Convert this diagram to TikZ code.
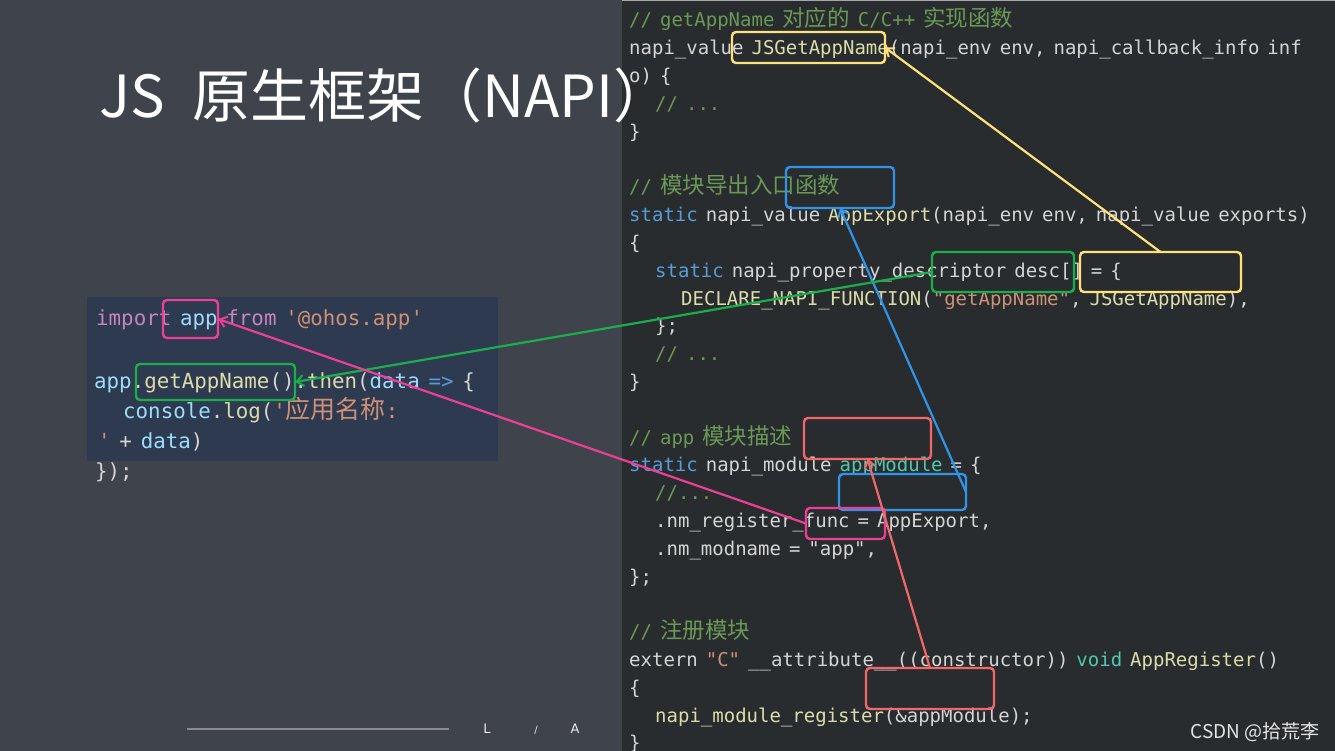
\documentclass[tikz,border=0pt]{standalone}
\usepackage{fontspec}
\newfontfamily\cjk{Noto Sans CJK SC}
\newfontfamily\mono[WordSpace=0.7]{DejaVu Sans Mono}
\newfontfamily\ui{DejaVu Sans}
\usetikzlibrary{arrows.meta,calc}
\definecolor{bgL}{HTML}{3F434C}
\definecolor{bgR}{HTML}{282C2E}
\definecolor{codebg}{HTML}{2E3A4F}
\definecolor{fg}{HTML}{D4D4D4}
\definecolor{cmt}{HTML}{6A9955}
\definecolor{kwc}{HTML}{569CD6}
\definecolor{fnc}{HTML}{DCDCAA}
\definecolor{tyc}{HTML}{4EC9B0}
\definecolor{stc}{HTML}{CE9178}
\definecolor{vrc}{HTML}{9CDCFE}
\definecolor{puc}{HTML}{C586C0}
\definecolor{yl}{HTML}{FFE27A}
\definecolor{bl}{HTML}{3094E8}
\definecolor{gr}{HTML}{1AAF4B}
\definecolor{pk}{HTML}{EC3F97}
\definecolor{rd}{HTML}{F2676A}
\definecolor{footgray}{HTML}{8A8B90}
\newcommand\ccm[1]{\textcolor{cmt}{#1}}
\newcommand\ckw[1]{\textcolor{kwc}{#1}}
\newcommand\cfn[1]{\textcolor{fnc}{#1}}
\newcommand\cty[1]{\textcolor{tyc}{#1}}
\newcommand\cst[1]{\textcolor{stc}{#1}}
\newcommand\cvr[1]{\textcolor{vrc}{#1}}
\newcommand\cpu[1]{\textcolor{puc}{#1}}
\newcommand\zh[1]{{\cjk\fontsize{22.5}{28}\selectfont #1}}
\newcommand\zhL[1]{{\cjk\fontsize{25}{30}\selectfont #1}}
\tikzset{
  rline/.style={anchor=base west, inner sep=0pt, text=fg, font=\mono\fontsize{19}{28}\selectfont},
  lline/.style={anchor=base west, inner sep=0pt, text=fg, font=\mono\fontsize{20.8}{30}\selectfont},
  mark box/.style={draw=#1, line width=2.4pt, rounded corners=4pt, inner sep=0pt, outer sep=0pt, anchor=north west},
  conn/.style={draw=#1, line width=2.2pt, -{Straight Barb[length=7pt,width=11pt,line width=2pt]}},
  ftxt/.style={inner sep=0pt, text=white!85!gray, font=\ui\fontsize{13}{14}\selectfont}
}
\begin{document}
\begin{tikzpicture}[x=1pt,y=-1pt]
\useasboundingbox (0,0) rectangle (1335,751);
\fill[bgL] (0,0) rectangle (622,751);
\fill[bgR] (622,0) rectangle (1335,751);
\fill[gray!70] (622,0) rectangle (1335,1.5);
% left code box
\fill[codebg] (87,297) rectangle (498,461);
\node[lline] (l1) at (96,325) {\cpu{import} \cvr{app} \cpu{from} \cst{'@ohos.app'}};
\node[lline] (l2) at (94,388) {\cvr{app}.\cfn{getAppName}().\cfn{then}(\cvr{data} \ckw{=>} \{};
\node[lline] (l3) at (123,418) {\cvr{console}.\cfn{log}(\cst{'\zhL{应用名称}:}};
\node[lline] (l4) at (98,448) {\cst{'} + \cvr{data})};
\node[lline] (l5) at (95,478) {\});};
% right code
\node[rline] (r0) at (629,27) {\ccm{// getAppName \zh{对应的} C/C++ \zh{实现函数}}};
\node[rline] (r1) at (629,54.8) {napi\_value \cfn{JSGetAppName}(napi\_env env, napi\_callback\_info inf};
\node[rline] (r2) at (629,82.6) {o) \{};
\node[rline] (r3) at (655,110.4) {\ccm{// ...}};
\node[rline] (r4) at (629,138.2) {\}};
\node[rline] (r6) at (629,193.8) {\ccm{// \zh{模块导出入口函数}}};
\node[rline] (r7) at (629,221.6) {\ckw{static} napi\_value \cfn{AppExport}(napi\_env env, napi\_value exports)};
\node[rline] (r8) at (629,249.4) {\{};
\node[rline] (r9) at (655,277.2) {\ckw{static} napi\_property\_descriptor desc[] = \{};
\node[rline] (r10) at (681,305) {\cfn{DECLARE\_NAPI\_FUNCTION}(\cst{"getAppName"}, \cfn{JSGetAppName}),};
\node[rline] (r11) at (655,332.8) {\};};
\node[rline] (r12) at (655,360.6) {\ccm{// ...}};
\node[rline] (r13) at (629,388.4) {\}};
\node[rline] (r15) at (629,444) {\ccm{// app \zh{模块描述}}};
\node[rline] (r16) at (629,471.8) {\ckw{static} napi\_module \cty{appModule} = \{};
\node[rline] (r17) at (655,499.6) {\ccm{//...}};
\node[rline] (r18) at (655,527.4) {.nm\_register\_func = AppExport,};
\node[rline] (r19) at (655,555.2) {.nm\_modname = "app",};
\node[rline] (r20) at (629,583) {\};};
\node[rline] (r22) at (629,638.6) {\ccm{// \zh{注册模块}}};
\node[rline] (r23) at (629,666.4) {extern \cst{"C"} \_\_attribute\_\_((constructor)) \cty{void} \cfn{AppRegister}()};
\node[rline] (r24) at (629,694.2) {\{};
\node[rline] (r25) at (655,722) {\cfn{napi\_module\_register}(\&appModule);};
\node[rline] (r26) at (629,749.8) {\}};
% title
\node[anchor=base west, inner sep=0pt, text=white, font=\cjk\fontsize{58}{62}\selectfont] (title) at (99,118) {JS\hspace{28pt}原生框架（NAPI）};
% footer
\coordinate (fl1) at (187,729);
\coordinate (fl2) at (449,729);
\draw[footgray, line width=2pt] (fl1) -- (fl2);
\node[ftxt] (fL) at (487,729) {L};
\node[ftxt, font=\ui\fontsize{10}{12}\selectfont] (fS) at (536,730) {/};
\node[ftxt] (fA) at (575,729) {A};
\node[anchor=base east, inner sep=0pt, text=white!80!gray, font=\cjk\fontsize{19}{22}\selectfont] (wm) at (1320,738) {CSDN @拾荒李};
% marker boxes
\node[mark box=yl, minimum width=153pt, minimum height=31pt] (Y1) at (732,32) {};
\node[mark box=yl, minimum width=161pt, minimum height=40pt] (Y2) at (1080,252) {};
\node[mark box=bl, minimum width=108pt, minimum height=41pt] (A) at (786,167) {};
\node[mark box=bl, minimum width=127pt, minimum height=36pt] (B) at (839,474) {};
\node[mark box=gr, minimum width=142pt, minimum height=40pt] (G1) at (932,252) {};
\node[mark box=gr, minimum width=159pt, minimum height=36pt] (G2) at (136,364) {};
\node[mark box=pk, minimum width=55pt, minimum height=38pt] (P1) at (163,300) {};
\node[mark box=pk, minimum width=79pt, minimum height=31pt] (P2) at (806,508) {};
\node[mark box=rd, minimum width=127pt, minimum height=41pt] (R1) at (804,418) {};
\node[mark box=rd, minimum width=128pt, minimum height=41pt] (R2) at (866,668) {};
% connectors
\draw[conn=yl] (Y2.north) -- (Y1.east);
\draw[conn=bl] (B.east) -- (A.south);
\draw[conn=gr] (G1.west) -- (G2.east);
\draw[conn=pk] (P2.west) -- (P1.east);
\draw[conn=rd] (R2.north) -- (R1.south);
\end{tikzpicture}
\end{document}
